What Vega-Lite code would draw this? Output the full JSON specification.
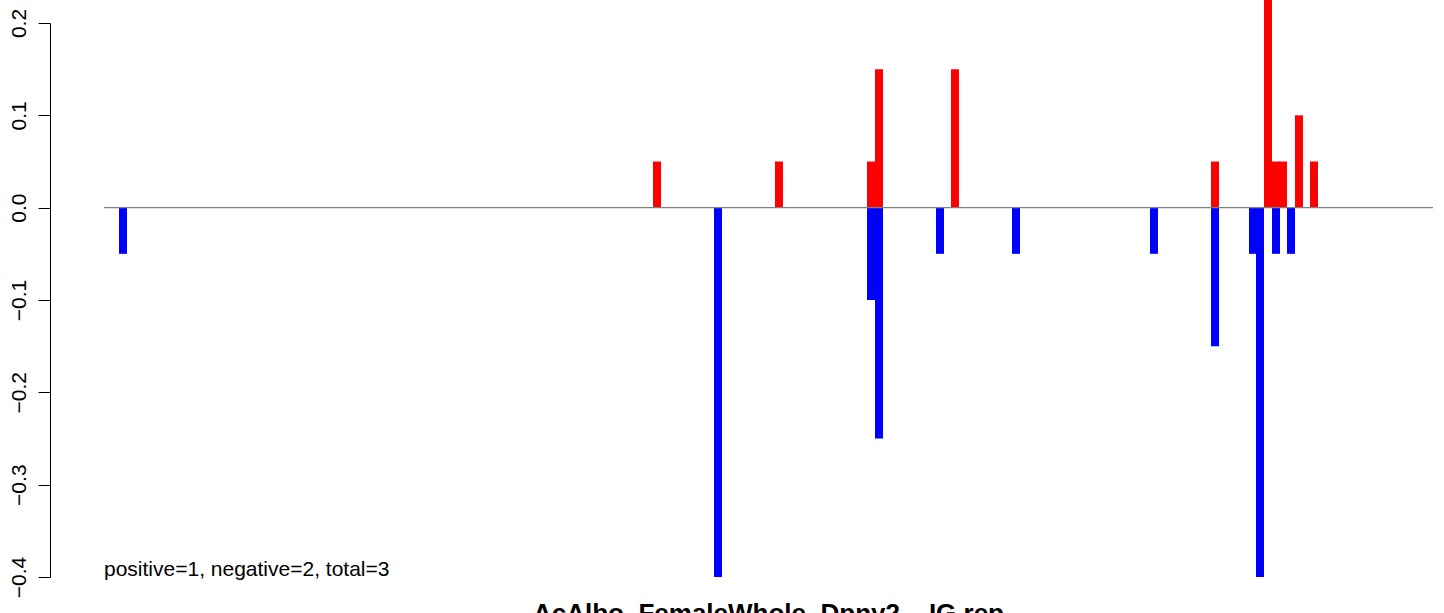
{
  "$schema": "https://vega.github.io/schema/vega-lite/v6.json",
  "autosize": {"type": "none"},
  "width": 1394,
  "height": 554,
  "padding": {"left": 50, "top": 23, "right": 0, "bottom": 36},
  "background": "white",
  "config": {"view": {"stroke": null}, "font": "Liberation Sans"},
  "datasets": {
    "bars": [
      {"pos": 19, "value": -0.05, "sign": "neg"},
      {"pos": 553, "value": 0.05, "sign": "pos"},
      {"pos": 614, "value": -0.4, "sign": "neg"},
      {"pos": 675, "value": 0.05, "sign": "pos"},
      {"pos": 767, "value": 0.05, "sign": "pos"},
      {"pos": 767, "value": -0.1, "sign": "neg"},
      {"pos": 775, "value": 0.15, "sign": "pos"},
      {"pos": 775, "value": -0.25, "sign": "neg"},
      {"pos": 836, "value": -0.05, "sign": "neg"},
      {"pos": 851, "value": 0.15, "sign": "pos"},
      {"pos": 912, "value": -0.05, "sign": "neg"},
      {"pos": 1050, "value": -0.05, "sign": "neg"},
      {"pos": 1111, "value": 0.05, "sign": "pos"},
      {"pos": 1111, "value": -0.15, "sign": "neg"},
      {"pos": 1149, "value": -0.05, "sign": "neg"},
      {"pos": 1156, "value": -0.4, "sign": "neg"},
      {"pos": 1164, "value": 0.25, "sign": "pos"},
      {"pos": 1172, "value": 0.05, "sign": "pos"},
      {"pos": 1172, "value": -0.05, "sign": "neg"},
      {"pos": 1179, "value": 0.05, "sign": "pos"},
      {"pos": 1187, "value": -0.05, "sign": "neg"},
      {"pos": 1195, "value": 0.1, "sign": "pos"},
      {"pos": 1210, "value": 0.05, "sign": "pos"}
    ],
    "baseline": [{"start": 0, "end": 1329, "y": 0}],
    "labels": [
      {"pos": 0, "y": -0.399, "text": "positive=1, negative=2, total=3", "kind": "note"},
      {"pos": 664.5, "y": -0.4483, "text": "AcAlbo_FemaleWhole_Dpny2__IG.rep", "kind": "title"}
    ]
  },
  "layer": [
    {
      "data": {"name": "bars"},
      "mark": {"type": "rule", "strokeWidth": 8, "strokeCap": "butt"},
      "encoding": {
        "x": {"field": "pos", "type": "quantitative", "scale": {"domain": [-54, 1340], "nice": false, "zero": false}, "axis": null},
        "y": {"field": "value", "type": "quantitative", "scale": {"domain": [-0.4, 0.2], "nice": false},
          "axis": {"orient": "left", "values": [-0.4, -0.3, -0.2, -0.1, 0, 0.1, 0.2], "format": ".1f", "title": null, "grid": false,
            "domainColor": "black", "domainWidth": 1, "tickColor": "black", "tickWidth": 1, "tickSize": 12,
            "labelAngle": -90, "labelAlign": "center", "labelBaseline": "bottom", "labelPadding": 9,
            "labelFont": "Liberation Sans", "labelFontSize": 21, "labelColor": "black", "labelFlush": false, "labelOverlap": false,
            "labelExpr": "replace(datum.label, '-', '\u2212')"}},
        "y2": {"datum": 0},
        "color": {"field": "sign", "type": "nominal", "scale": {"domain": ["pos", "neg"], "range": ["#FF0000", "#0000FF"]}, "legend": null}
      }
    },
    {
      "data": {"name": "baseline"},
      "mark": {"type": "rule", "color": "#808080", "strokeWidth": 1.2},
      "encoding": {
        "x": {"field": "start", "type": "quantitative"},
        "x2": {"field": "end"},
        "y": {"field": "y", "type": "quantitative"}
      }
    },
    {
      "data": {"name": "labels"},
      "transform": [{"filter": "datum.kind === 'note'"}],
      "mark": {"type": "text", "align": "left", "baseline": "alphabetic", "font": "Liberation Sans", "fontSize": 21, "color": "black"},
      "encoding": {
        "x": {"field": "pos", "type": "quantitative"},
        "y": {"field": "y", "type": "quantitative"},
        "text": {"field": "text"}
      }
    },
    {
      "data": {"name": "labels"},
      "transform": [{"filter": "datum.kind === 'title'"}],
      "mark": {"type": "text", "align": "center", "baseline": "alphabetic", "font": "Liberation Sans", "fontSize": 26, "fontWeight": "bold", "color": "black"},
      "encoding": {
        "x": {"field": "pos", "type": "quantitative"},
        "y": {"field": "y", "type": "quantitative"},
        "text": {"field": "text"}
      }
    }
  ]
}
